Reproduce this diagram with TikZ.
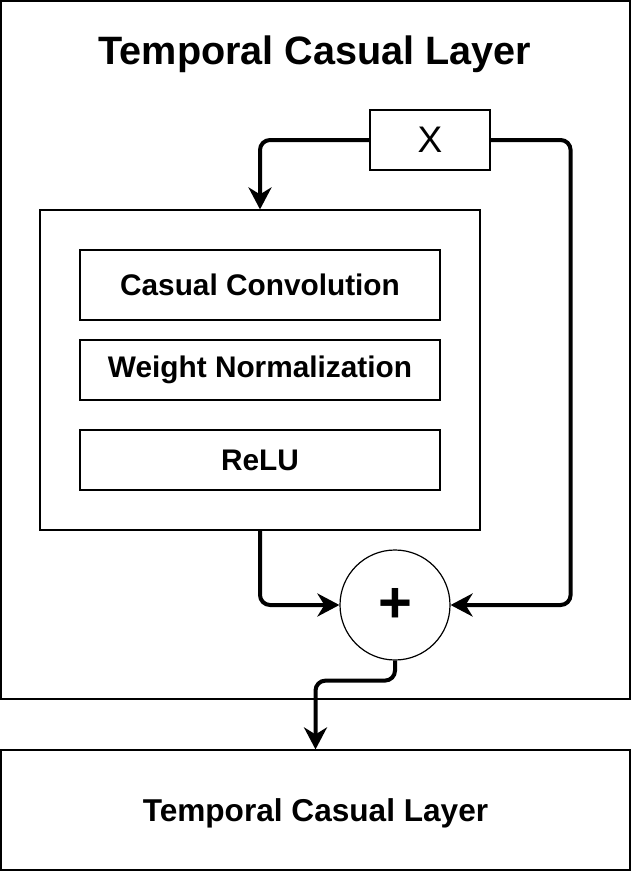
\documentclass[tikz,border=0pt]{standalone}
\usepackage{fontspec}
\setmainfont{Liberation Sans}
\usetikzlibrary{arrows.meta,positioning}
\tikzstyle{block} = [rectangle, draw=black, line width=1.2pt, minimum width=360pt, minimum height=70pt, inner sep=0pt, text centered, font=\fontsize{29.8}{34}\selectfont\bfseries]
\tikzstyle{flow} = [line width=4pt, rounded corners=10pt, -{Stealth[length=22pt,width=23pt,inset=7pt]}]

\begin{document}
\begin{tikzpicture}[x=1pt,y=-1pt]
\useasboundingbox (0,0) rectangle (631,871);
% Outer layer with its title
\node[block, minimum width=629pt, minimum height=698pt] (layer) at (315.5,350) {};
\node[text depth=0pt, font=\fontsize{39.6}{44}\selectfont\bfseries] (title) at (315,50) {Temporal Casual Layer};

% Input
\node[block, minimum width=120pt, minimum height=60pt, font=\fontsize{37}{42}\selectfont] (x) at (430,140) {X};

% Residual block
\node[block, minimum width=440pt, minimum height=320pt] (inner) at (260,370) {};
\node[block] (conv) at (260,285) {Casual Convolution};
\node[block, minimum height=60pt] (norm) at (260,370) {Weight Normalization};
\node[block, minimum height=60pt] (relu) at (260,460) {ReLU};

% Sum
\node[circle, draw, line width=1.2pt, minimum size=110pt, inner sep=0pt, font=\fontsize{58}{58}\selectfont\bfseries] (sum) at (395,605) {+};

% Next layer
\node[block, minimum width=629pt, minimum height=120pt, text depth=0pt, font=\fontsize{31.6}{36}\selectfont\bfseries] (next) at (315.5,810) {Temporal Casual Layer};

% Connections
\draw[flow] (x.west) -| (inner.north);
\draw[flow] (x.east) -- ++(80,0) |- (sum.east);
\draw[flow] (inner.south) |- (sum.west);
\draw[flow] (sum.south) -- ++(0,20) -| (next.north);
\end{tikzpicture}
\end{document}
